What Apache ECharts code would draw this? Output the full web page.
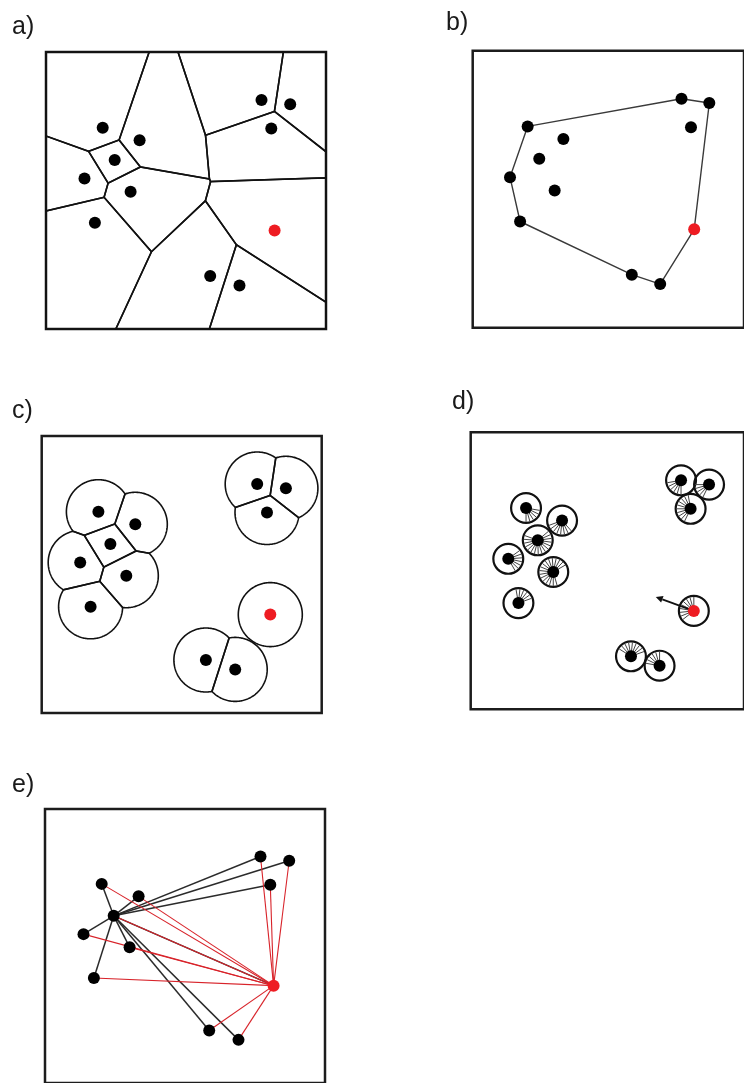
<!DOCTYPE html>
<html><head><meta charset="utf-8">
<script src="https://cdn.jsdelivr.net/npm/echarts@6/dist/echarts.min.js"></script>
<style>html,body{margin:0;padding:0;background:#fff}#c{width:744px;height:1083px}</style>
</head><body><div id="c"></div>
<script>
// ---- data (site positions relative to each panel's frame, frame = 280 x 277 units) ----
const panelLabels = ['a)', 'b)', 'c)', 'd)', 'e)'];
const siteX = [56.7, 93.6, 68.7, 38.5, 84.6, 48.9, 215.5, 244.2, 225.3, 228.6, 164.2, 193.5];
const siteY = [75.7, 88.3, 108.0, 126.5, 139.7, 170.8, 48.0, 52.3, 76.5, 178.6, 224.0, 233.4];
const redIndex = 9;          // the highlighted (boundary) node
const hubIndex = 2;          // node linked to all others in panel e
const coverRadius = 32;      // disc radius, panel c
const senseRadius = 15.3;    // ring radius, panel d
const hatchFrom = [-90, -160, -200, -60, 30, 20, -170, 180, 100, 90, 20, 90];  // degrees
const hatchTo   = [0,   -40,   45,   50, 300, 100, -80, 250, 250, 220, 150, 170];
const moveVector = [-39, -14];

// ---- geometry helpers ----
const W = 280, H = 277;
const idx = siteX.map((_, i) => i);
function clipHalf(poly, sx, sy, qx, qy) {
  const nx = qx - sx, ny = qy - sy, mx = (sx + qx) / 2, my = (sy + qy) / 2;
  const f = p => (p[0] - mx) * nx + (p[1] - my) * ny;
  const out = [];
  for (let k = 0; k < poly.length; k++) {
    const a = poly[k], b = poly[(k + 1) % poly.length];
    const fa = f(a), fb = f(b);
    if (fa <= 0) out.push(a);
    if ((fa < 0 && fb > 0) || (fa > 0 && fb < 0)) {
      const t = fa / (fa - fb);
      out.push([a[0] + t * (b[0] - a[0]), a[1] + t * (b[1] - a[1])]);
    }
  }
  return out;
}
function clipToCell(i, base) {
  let poly = base;
  idx.forEach(j => { if (j !== i) poly = clipHalf(poly, siteX[i], siteY[i], siteX[j], siteY[j]); });
  return poly;
}
function circlePoly(cx, cy, r, n) {
  const pts = [];
  for (let k = 0; k < n; k++) { const a = 2 * Math.PI * k / n; pts.push([cx + r * Math.cos(a), cy + r * Math.sin(a)]); }
  return pts;
}
const boxPoly = [[0, 0], [W, 0], [W, H], [0, H]];
const voronoiCells = idx.map(i => clipToCell(i, boxPoly));
const coverCells = idx.map(i => clipToCell(i, circlePoly(siteX[i], siteY[i], coverRadius, 240)));
function hull() {
  const p = idx.map(i => [siteX[i], siteY[i]]).sort((a, b) => a[0] - b[0] || a[1] - b[1]);
  const cr = (o, a, b) => (a[0] - o[0]) * (b[1] - o[1]) - (a[1] - o[1]) * (b[0] - o[0]);
  const lo = [], up = [];
  p.forEach(q => { while (lo.length >= 2 && cr(lo[lo.length - 2], lo[lo.length - 1], q) <= 0) lo.pop(); lo.push(q); });
  p.slice().reverse().forEach(q => { while (up.length >= 2 && cr(up[up.length - 2], up[up.length - 1], q) <= 0) up.pop(); up.push(q); });
  const h = lo.slice(0, -1).concat(up.slice(0, -1));
  h.push(h[0]);
  return h;
}
const hullPts = hull();

// ---- chart ----
const chart = echarts.init(document.getElementById('c'), null, { renderer: 'canvas', width: 744, height: 1083 });
const panelPos = [[46, 52], [472.7, 50.7], [41.7, 436], [470.7, 432.3], [45, 809]];
const labelPos = [[12, 29], [446, 25], [12, 413], [452, 404], [12, 787]];
const grid = panelPos.map(p => ({ left: p[0], top: p[1], width: W, height: H, show: true,
  borderColor: '#1c1c1c', borderWidth: 2.5, backgroundColor: 'transparent', containLabel: false }));
const xAxis = panelPos.map((_, g) => ({ gridIndex: g, type: 'value', min: 0, max: W, show: false }));
const yAxis = panelPos.map((_, g) => ({ gridIndex: g, type: 'value', min: 0, max: H, inverse: true, show: false }));
const siteData = idx.map(i => [siteX[i], siteY[i], i]);

const series = [];
// a) Voronoi
series.push({ type: 'custom', xAxisIndex: 0, yAxisIndex: 0, data: siteData, silent: true, z: 2,
  renderItem: (params, api) => ({ type: 'polygon',
    shape: { points: voronoiCells[api.value(2)].map(p => api.coord(p)) },
    style: { fill: 'none', stroke: '#111', lineWidth: 1.6 } }) });
// b) convex hull
series.push({ type: 'line', xAxisIndex: 1, yAxisIndex: 1, data: hullPts, symbol: 'none', silent: true, z: 2,
  lineStyle: { color: '#3a3a3a', width: 1.4 } });
// c) coverage discs clipped to cells
series.push({ type: 'custom', xAxisIndex: 2, yAxisIndex: 2, data: siteData, silent: true, z: 2,
  renderItem: (params, api) => ({ type: 'polygon',
    shape: { points: coverCells[api.value(2)].map(p => api.coord(p)) },
    style: { fill: 'none', stroke: '#111', lineWidth: 1.6 } }) });
// d) sensing rings with hatched sectors
series.push({ type: 'custom', xAxisIndex: 3, yAxisIndex: 3, data: siteData, silent: true, z: 2,
  renderItem: (params, api) => {
    const i = api.value(2);
    const c = api.coord([api.value(0), api.value(1)]);
    const r = api.size([senseRadius, 0])[0];
    const children = [{ type: 'circle', shape: { cx: c[0], cy: c[1], r: r }, style: { fill: 'none', stroke: '#111', lineWidth: 2.2 } }];
    for (let a = hatchFrom[i]; a <= hatchTo[i] + 0.01; a += 16) {
      const t = a * Math.PI / 180;
      children.push({ type: 'line', shape: { x1: c[0] + 4 * Math.cos(t), y1: c[1] - 4 * Math.sin(t),
        x2: c[0] + (r - 1) * Math.cos(t), y2: c[1] - (r - 1) * Math.sin(t) }, style: { stroke: '#444', lineWidth: 1 } });
    }
    return { type: 'group', children };
  } });
// d) movement arrow
series.push({ type: 'custom', xAxisIndex: 3, yAxisIndex: 3, silent: true, z: 3,
  data: [[siteX[redIndex], siteY[redIndex], siteX[redIndex] + moveVector[0], siteY[redIndex] + moveVector[1]]],
  renderItem: (params, api) => {
    const s = api.coord([api.value(0), api.value(1)]);
    const e = api.coord([api.value(2), api.value(3)]);
    const dx = e[0] - s[0], dy = e[1] - s[1], L = Math.hypot(dx, dy), ux = dx / L, uy = dy / L;
    const hl = 7, hw = 3.5;
    const bx = e[0] - ux * hl, by = e[1] - uy * hl;
    return { type: 'group', children: [
      { type: 'line', shape: { x1: s[0], y1: s[1], x2: bx, y2: by }, style: { stroke: '#111', lineWidth: 1.8 } },
      { type: 'polygon', shape: { points: [[e[0], e[1]], [bx - uy * hw, by + ux * hw], [bx + uy * hw, by - ux * hw]] }, style: { fill: '#111' } }
    ] };
  } });
// e) links from hub (black) and from red node (red)
function linkSeries(from, color, width, z) {
  return { type: 'custom', xAxisIndex: 4, yAxisIndex: 4, silent: true, z: z,
    data: idx.filter(j => j !== from).map(j => [siteX[from], siteY[from], siteX[j], siteY[j]]),
    renderItem: (params, api) => {
      const s = api.coord([api.value(0), api.value(1)]);
      const e = api.coord([api.value(2), api.value(3)]);
      return { type: 'line', shape: { x1: s[0], y1: s[1], x2: e[0], y2: e[1] }, style: { stroke: color, lineWidth: width } };
    } };
}
series.push(linkSeries(hubIndex, '#2b2b2b', 1.5, 2));
series.push(linkSeries(redIndex, '#d8232a', 1.1, 3));
// dots in every panel
panelPos.forEach((_, g) => {
  series.push({ type: 'scatter', xAxisIndex: g, yAxisIndex: g, symbolSize: 12, silent: true, z: 10,
    data: idx.map(i => ({ value: [siteX[i], siteY[i]], itemStyle: { color: i === redIndex ? '#ee1c22' : '#000', opacity: 1 } })) });
});

chart.setOption({
  animation: false,
  backgroundColor: '#fff',
  grid, xAxis, yAxis, series,
  graphic: panelLabels.map((t, k) => ({ type: 'text', left: labelPos[k][0], top: labelPos[k][1] - 14,
    style: { text: t, fontFamily: 'Liberation Sans, Arial, sans-serif', fontSize: 25, fill: '#1a1a1a' } }))
});
</script></body></html>
